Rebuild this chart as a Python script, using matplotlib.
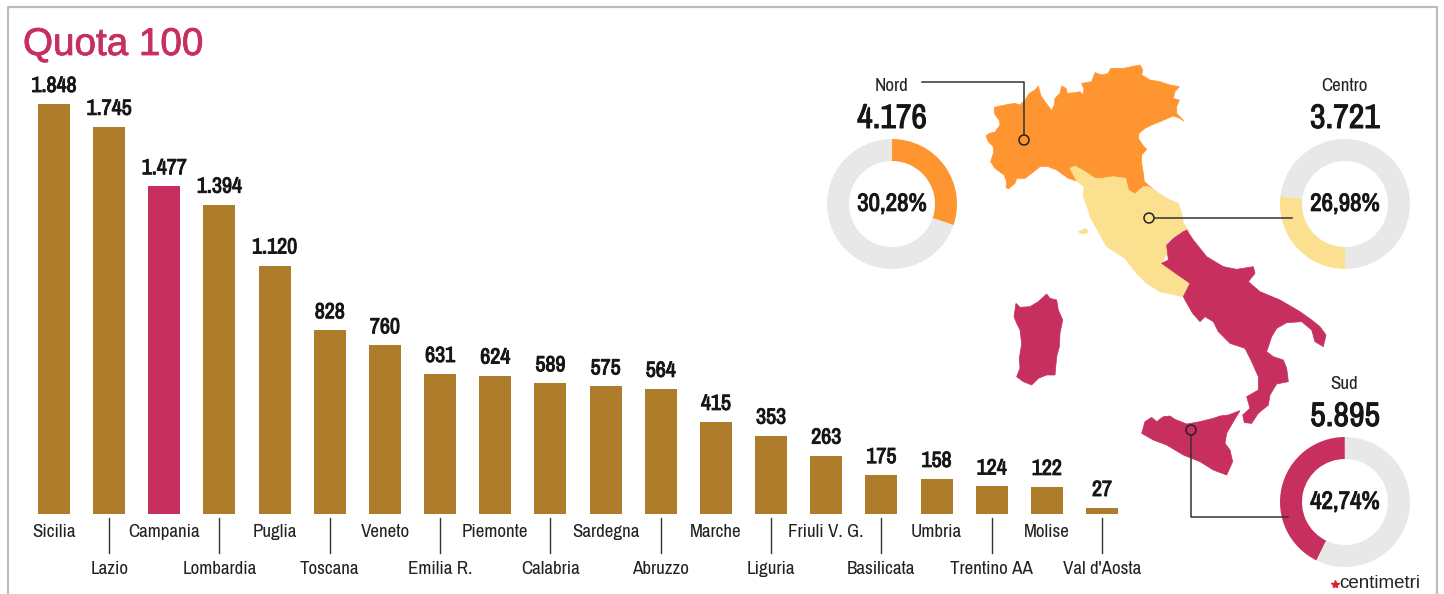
import matplotlib
matplotlib.use("Agg")
import matplotlib.pyplot as plt
import matplotlib.patheffects as pe
from matplotlib import font_manager
from matplotlib.patches import Polygon, Circle

# take the first narrow face the machine has
installed = {f.name for f in font_manager.fontManager.ttflist}
NARROW = next(n for n in ["Archivo Narrow", "Roboto Condensed", "PT Sans Narrow",
                          "Liberation Sans Narrow", "Liberation Sans"] if n in installed)

regions = ["Sicilia", "Lazio", "Campania", "Lombardia", "Puglia", "Toscana", "Veneto",
           "Emilia R.", "Piemonte", "Calabria", "Sardegna", "Abruzzo", "Marche", "Liguria",
           "Friuli V. G.", "Basilicata", "Umbria", "Trentino AA", "Molise", "Val d'Aosta"]
requests = [1848, 1745, 1477, 1394, 1120, 828, 760, 631, 624, 589, 575, 564, 415, 353,
            263, 175, 158, 124, 122, 27]
highlight = "Campania"

areas = ["Nord", "Centro", "Sud"]
area_totals = ["4.176", "3.721", "5.895"]
area_shares = [30.28, 26.98, 42.74]

BROWN = "#AE7D2B"
RED = "#C72F5E"
ORANGE = "#FF9530"
YELLOW = "#FBE08F"
RING = "#E8E8E8"
INK = "#161616"

# map outlines on a 3x grid; north_grid starts at pixel (960, 50), south_grid at (1000, 280)
nord_shape = [(78,258),(88,250),(105,246),(120,225),(118,212),(103,190),(103,172),(135,165),(165,160),
              (180,165),(195,150),(208,130),(225,120),(235,108),(242,135),(255,155),(275,182),(283,165),
              (285,145),(300,130),(305,108),(318,115),(322,130),(345,128),(360,125),(368,135),(372,118),
              (365,100),(395,95),(405,68),(425,75),(445,70),(452,55),(490,55),(540,45),(548,60),(545,75),
              (570,90),(600,95),(630,105),(658,110),(645,125),(640,145),(658,150),(650,170),(650,190),
              (672,213),(655,203),(640,198),(600,215),(575,225),(555,235),(537,250),(535,265),(548,285),
              (560,298),(545,315),(545,340),(550,370),(553,395),(580,418),(565,410),(550,410),(525,432),
              (505,420),(497,385),(460,380),(425,385),(405,385),(375,365),(345,348),(330,355),(350,393),
              (325,385),(290,360),(265,350),(240,350),(215,370),(195,385),(170,385),(165,400),(145,417),
              (138,412),(140,395),(132,375),(105,355),(92,335),(100,310),(100,290),(85,275)]
centro_shape = [(330,355),(345,348),(375,365),(405,385),(425,385),(460,380),(497,385),(505,420),(525,432),
                (550,410),(565,410),(580,418),(620,445),(655,460),(665,490),(670,520),(690,545),(670,545),
                (640,560),(620,580),(622,610),(605,640),(640,665),(690,700),(670,740),(600,725),(560,700),
                (530,670),(495,625),(440,590),(415,545),(390,500),(385,480),(370,440),(372,410),(350,393)]
elba_shape = [(355,545),(378,535),(385,547),(365,552)]
sud_shape = [(560,-150),(580,-120),(620,-70),(670,-40),(710,-32),(760,-40),(765,-20),(745,5),(780,35),
             (840,60),(900,95),(935,120),(960,140),(978,165),(970,200),(945,185),(935,150),(905,125),
             (860,128),(830,145),(815,170),(800,215),(820,230),(850,240),(860,265),(865,305),(830,312),
             (810,345),(805,375),(775,400),(755,430),(733,428),(728,405),(750,385),(740,350),(775,330),
             (775,290),(755,245),(735,205),(690,190),(655,155),(640,125),(615,110),(600,125),(578,100),
             (555,60),(550,50),(570,10),(520,-25),(485,-50),(505,-60),(500,-105),(520,-125),(550,-145)]
sicilia_shape = [(425,460),(435,425),(455,412),(470,425),(490,410),(510,408),(525,418),(560,432),(600,425),
                 (640,415),(660,408),(685,405),(720,392),(700,425),(680,460),(675,490),(690,510),(698,545),
                 (680,585),(640,570),(600,545),(550,525),(500,495),(460,480)]
sardegna_shape = [(42,110),(48,70),(60,82),(90,80),(115,65),(140,42),(150,55),(170,60),(175,90),(188,120),
                  (180,160),(178,200),(170,230),(165,285),(140,285),(115,295),(95,315),(70,305),(50,290),
                  (60,265),(58,235),(65,190),(60,150),(50,130)]

def north_grid(points):
    return [(960 + x / 3, 50 + y / 3) for x, y in points]

def south_grid(points):
    return [(1000 + x / 3, 280 + y / 3) for x, y in points]

W, H = 1444, 594
fig = plt.figure(figsize=(W / 100, H / 100), dpi=100, facecolor="white")
heavy = [pe.withStroke(linewidth=0.7, foreground=INK)]

# overlay in pixels for the frame, map and call-outs
ax = fig.add_axes([0, 0, 1, 1])
ax.set_xlim(0, W)
ax.set_ylim(H, 0)
ax.axis("off")

ax.plot([8, 8, 1437, 1437], [H, 7, 7, H], color="#bdbdbd", lw=1.6)
ax.text(23, 55, "Quota 100", color=RED, fontsize=27.8, family="Liberation Sans", va="baseline",
        path_effects=[pe.withStroke(linewidth=0.6, foreground=RED)])

shapes = [(north_grid(nord_shape), ORANGE), (north_grid(centro_shape), YELLOW), (north_grid(elba_shape), YELLOW),
          (south_grid(sud_shape), RED), (south_grid(sicilia_shape), RED), (south_grid(sardegna_shape), RED)]
for shape, colour in shapes:
    ax.add_patch(Polygon(shape, closed=True, fc=colour, ec=colour, lw=0.5, zorder=2))

# bars, scaled so the tallest one runs from y=514 up to y=104
bar_ax = fig.add_axes([26.4 / W, (H - 514) / H, 1103.2 / W, 410 / H])
bar_ax.set_xlim(-0.5, 19.5)
bar_ax.set_ylim(0, 1848)
bar_ax.axis("off")
bar_ax.patch.set_alpha(0)

colours = [RED if r == highlight else BROWN for r in regions]
bar_ax.bar(range(len(regions)), requests, width=0.58, color=colours)

for i, (name, val) in enumerate(zip(regions, requests)):
    txt = f"{val:,}".replace(",", ".")
    bar_ax.annotate(txt, (i, val), xytext=(0, 13), textcoords="offset points", ha="center",
                    va="center", fontsize=15.8, family=NARROW, fontweight="bold", color=INK,
                    annotation_clip=False, path_effects=heavy)
    low = i % 2 == 1
    offset = -39.5 if low else -13
    bar_ax.annotate(name, (i, 0), xytext=(0, offset), textcoords="offset points", ha="center",
                    va="center", fontsize=13.7, family=NARROW, color="#222222", annotation_clip=False)
    if low:
        bar_ax.plot([i, i], [-18, -175], color="#333333", lw=1, clip_on=False)

# donut rings, each set by its share
ring_pos = [(892, 204), (1345, 204), (1345, 502)]
ring_cols = [ORANGE, YELLOW, RED]
ring_start = [90, -90, 90 + 154]
R = 65
for area, total, share, (cx, cy), col, start in zip(areas, area_totals, area_shares, ring_pos, ring_cols, ring_start):
    d_ax = fig.add_axes([(cx - R) / W, (H - cy - R) / H, 2 * R / W, 2 * R / H])
    d_ax.pie([share, 100 - share], colors=[col, RING], startangle=start, counterclock=False,
             radius=1, wedgeprops=dict(width=22 / R))
    d_ax.set_xlim(-1, 1)
    d_ax.set_ylim(-1, 1)
    d_ax.patch.set_alpha(0)
    pct = f"{share:.2f}%".replace(".", ",")
    d_ax.text(0, 0.01, pct, ha="center", va="center", fontsize=18, family=NARROW,
              fontweight="bold", color=INK, path_effects=heavy)
    ax.text(cx - 1, cy - 118, area, ha="center", va="center", fontsize=13.7, family=NARROW, color="#222222")
    ax.text(cx, cy - 85, total, ha="center", va="center", fontsize=24.5, family=NARROW,
            fontweight="bold", color=INK, path_effects=heavy)

# call-out lines from the map to the labels and rings
line_ax = fig.add_axes([0, 0, 1, 1])
line_ax.set_xlim(0, W)
line_ax.set_ylim(H, 0)
line_ax.axis("off")
line_ax.patch.set_alpha(0)
line_ax.plot([922, 1024, 1024], [82, 82, 135], color="#333333", lw=1.1)
line_ax.plot([1154, 1292], [218, 218], color="#333333", lw=1.1)
line_ax.plot([1191, 1191, 1288], [435, 517, 517], color="#333333", lw=1.1)
for px, py, col in [(1024, 140, ORANGE), (1149, 218, YELLOW), (1191, 430, RED)]:
    line_ax.add_patch(Circle((px, py), 5, fc=col, ec="#222222", lw=1.1, zorder=4))

# credit
line_ax.text(1339, 584, "centimetri", ha="left", va="center", fontsize=13.5, family="Liberation Sans", color="#222222")
line_ax.plot([1335], [584], marker="*", color="#D4262C", ms=6, ls="none")

fig.savefig("out.png", dpi=100)
